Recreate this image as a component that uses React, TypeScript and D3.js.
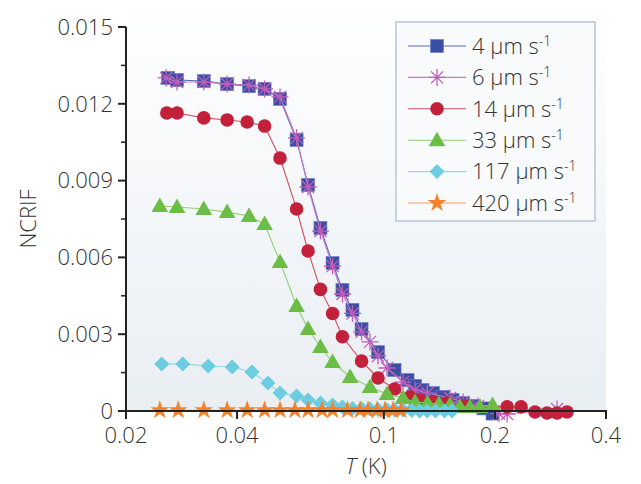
import React from 'react';
import * as d3 from 'd3';

const xTicks = [0.02, 0.04, 0.1, 0.2, 0.4];
const xTickLabels = ['0.02', '0.04', '0.1', '0.2', '0.4'];
const yTicks = [0, 0.003, 0.006, 0.009, 0.012, 0.015];
const yTickLabels = ['0', '0.003', '0.006', '0.009', '0.012', '0.015'];
const yMinorTicks = [0.0015, 0.0045, 0.0075, 0.0105, 0.0135];

const speeds = ['4', '6', '14', '33', '117', '420'];

const t4 = [0.026, 0.0275, 0.0325, 0.0376, 0.0431, 0.0475, 0.0523, 0.058, 0.0623, 0.0673, 0.0726, 0.0772, 0.0822, 0.087, 0.0964, 0.1069, 0.1159, 0.1215, 0.1273, 0.1359, 0.1446, 0.1535, 0.164, 0.175, 0.186, 0.197];
const n4 = [0.01301, 0.01293, 0.01289, 0.01277, 0.01269, 0.01258, 0.01219, 0.01059, 0.00883, 0.00715, 0.00578, 0.00473, 0.00395, 0.0032, 0.0023, 0.0016, 0.00121, 0.00098, 0.00082, 0.0007, 0.00055, 0.00043, 0.00031, 0.0002, 0.0001, -0.0001];

const t6 = [0.0257, 0.0275, 0.0325, 0.0376, 0.0431, 0.0475, 0.0523, 0.058, 0.0623, 0.0673, 0.0726, 0.0772, 0.0822, 0.087, 0.0917, 0.0964, 0.102, 0.1127, 0.1215, 0.1313, 0.1511, 0.164, 0.18, 0.205, 0.2158, 0.2947];
const n6 = [0.01301, 0.01285, 0.01285, 0.01277, 0.01273, 0.01258, 0.01227, 0.01067, 0.00875, 0.00703, 0.00566, 0.00457, 0.00381, 0.00309, 0.0027, 0.00215, 0.00168, 0.00113, 0.00082, 0.0007, 0.00051, 0.00035, 0.0002, -0.0001, -0.00012, 0.00008];

const t14 = [0.0258, 0.0275, 0.0325, 0.0376, 0.0426, 0.0475, 0.0523, 0.058, 0.0623, 0.0673, 0.0726, 0.0772, 0.087, 0.0964, 0.1069, 0.1177, 0.1253, 0.1359, 0.1483, 0.165, 0.2158, 0.2354, 0.2569, 0.2768, 0.2947, 0.3136];
const n14 = [0.01164, 0.01164, 0.01145, 0.01137, 0.01129, 0.01113, 0.00988, 0.00789, 0.00625, 0.00475, 0.00381, 0.0029, 0.00195, 0.00129, 0.00086, 0.00055, 0.00043, 0.00035, 0.00031, 0.0002, 0.00016, 0.00016, -0.00004, -0.00008, -0.00008, -0.00004];

const t33 = [0.0247, 0.0275, 0.0325, 0.0376, 0.0431, 0.0475, 0.0523, 0.058, 0.0623, 0.0673, 0.0726, 0.081, 0.0917, 0.102, 0.1127, 0.1215, 0.1313, 0.141, 0.1511, 0.1608, 0.1711, 0.1822, 0.197];
const n33 = [0.00801, 0.00797, 0.00789, 0.00777, 0.00762, 0.0073, 0.00582, 0.0041, 0.0032, 0.0025, 0.00191, 0.00133, 0.00094, 0.00066, 0.00051, 0.00035, 0.00031, 0.00027, 0.00023, 0.00016, 0.00016, 0.00016, 0.00023];

const t117 = [0.025, 0.0285, 0.0334, 0.0388, 0.0439, 0.0485, 0.0523, 0.058, 0.0623, 0.0673, 0.0726, 0.0772, 0.0822, 0.087, 0.0917, 0.0964, 0.102, 0.1069, 0.1127, 0.119, 0.125, 0.131, 0.138, 0.146, 0.153];
const n117 = [0.00184, 0.00184, 0.00176, 0.00172, 0.00152, 0.00109, 0.0007, 0.00059, 0.00043, 0.00031, 0.00023, 0.00016, 0.0001, 0.0001, 0.00008, 0.00006, 0.00004, 0.00004, 0.00004, 0.00002, 0.0, 0.0, 0.0, 0.0, 0.0];

const t420 = [0.0247, 0.0277, 0.0325, 0.0376, 0.0426, 0.0475, 0.0523, 0.0574, 0.0623, 0.068, 0.0726, 0.0797, 0.0862, 0.0906, 0.0958, 0.1007, 0.1059, 0.1113];
const n420 = [0.00003, 0.00003, 0.00003, 0.00003, 0.00003, 0.00003, 0.00003, 0.00003, 0.00003, 0.00003, 0.00003, 0.00003, 0.00003, 0.00003, 0.00003, 0.00003, 0.00003, 0.00003];

const W = 641, H = 484;
const X0 = 126, X1 = 606, Y0 = 411, Y1 = 27;
const FONT = "'Open Sans', sans-serif";
const FW = 300;
const TXT = '#333';

type Shape = 'square' | 'asterisk' | 'circle' | 'triangle' | 'diamond' | 'star';

const series = [
  { t: t4, n: n4, shape: 'square' as Shape, fill: '#3a4ea2', line: '#5868b8' },
  { t: t6, n: n6, shape: 'asterisk' as Shape, fill: '#c25cb9', line: '#c77ac6' },
  { t: t14, n: n14, shape: 'circle' as Shape, fill: '#c3203b', line: '#d2505f' },
  { t: t33, n: n33, shape: 'triangle' as Shape, fill: '#6bbd45', line: '#93d071' },
  { t: t117, n: n117, shape: 'diamond' as Shape, fill: '#6ccce0', line: '#8cd8e8' },
  { t: t420, n: n420, shape: 'star' as Shape, fill: '#f3822a', line: '#f4a060' },
];

function Marker({ shape, x, y, fill }: { shape: Shape; x: number; y: number; fill: string }) {
  switch (shape) {
    case 'square':
      return <rect x={x - 6.5} y={y - 6.5} width={13} height={13} fill={fill} stroke="#6a7cc8" strokeWidth={0.6} />;
    case 'circle':
      return <circle cx={x} cy={y} r={6.8} fill={fill} />;
    case 'triangle':
      return <path d={`M${x},${y - 8.5}L${x + 8.3},${y + 6}L${x - 8.3},${y + 6}Z`} fill={fill} />;
    case 'diamond':
      return <path d={`M${x},${y - 7.5}L${x + 7.5},${y}L${x},${y + 7.5}L${x - 7.5},${y}Z`} fill={fill} />;
    case 'star': {
      const p = d3.symbol(d3.symbolStar, 110)();
      return <path d={p as string} transform={`translate(${x},${y})`} fill={fill} />;
    }
    case 'asterisk': {
      const r = 8.5, d = r * 0.7071;
      return (
        <path
          d={`M${x - r},${y}L${x + r},${y}M${x},${y - r}L${x},${y + r}M${x - d},${y - d}L${x + d},${y + d}M${x - d},${y + d}L${x + d},${y - d}`}
          stroke={fill}
          strokeWidth={1.3}
          fill="none"
        />
      );
    }
  }
  return null;
}

export default function App() {
  const x = d3.scaleLog().domain([0.02, 0.4]).range([X0, X1]);
  const y = d3.scaleLinear().domain([0, 0.015]).range([Y0, Y1]);
  const line = d3.line<[number, number]>().x((d) => x(d[0])).y((d) => y(d[1]));

  const legX = 396, legY = 22, legW = 199, legH = 199;
  const rowY0 = 46, rowDy = 31.4;

  return (
    <svg width={W} height={H} style={{ position: 'absolute', left: 0, top: 0, background: '#fff' }}>
      <defs>
        <linearGradient id="bg" x1="0" y1="0" x2="0" y2="1">
          <stop offset="0" stopColor="#ffffff" />
          <stop offset="1" stopColor="#e9eef3" />
        </linearGradient>
      </defs>
      <rect x={X0} y={0} width={X1 - X0} height={Y0} fill="url(#bg)" />

      {series.map((s, i) => {
        const pts: [number, number][] = s.t.map((t, j) => [t, s.n[j]]);
        return (
          <g key={i}>
            <path d={line(pts) as string} fill="none" stroke={s.line} strokeWidth={1.1} />
            {pts.map((p, j) => (
              <Marker key={j} shape={s.shape} x={x(p[0])} y={y(p[1])} fill={s.fill} />
            ))}
          </g>
        );
      })}

      <line x1={X0} x2={X0} y1={Y1} y2={Y0 + 2} stroke="#222" strokeWidth={2} />
      <line x1={X0 - 8} x2={X1 + 1} y1={Y0} y2={Y0} stroke="#222" strokeWidth={2} />
      {yTicks.map((v, i) => (
        <g key={i}>
          <line x1={X0 - 8} x2={X0} y1={y(v)} y2={y(v)} stroke="#222" strokeWidth={2} />
          <text x={X0 - 13} y={y(v)} dy="0.35em" textAnchor="end" fontFamily={FONT} fontWeight={FW} fontSize={22} fill={TXT}>
            {yTickLabels[i]}
          </text>
        </g>
      ))}
      {yMinorTicks.map((v, i) => (
        <line key={i} x1={X0 - 5} x2={X0} y1={y(v)} y2={y(v)} stroke="#222" strokeWidth={1.5} />
      ))}
      {xTicks.map((v, i) => (
        <g key={i}>
          <line x1={x(v)} x2={x(v)} y1={Y0} y2={Y0 + 8} stroke="#222" strokeWidth={2} />
          <text x={x(v)} y={443} textAnchor="middle" fontFamily={FONT} fontWeight={FW} fontSize={22} fill={TXT}>
            {xTickLabels[i]}
          </text>
        </g>
      ))}
      <text x={(X0 + X1) / 2} y={474} textAnchor="middle" fontFamily={FONT} fontWeight={FW} fontSize={22} fill={TXT}>
        <tspan fontStyle="italic">T</tspan> (K)
      </text>
      <text
        transform={`translate(36,${(Y0 + Y1) / 2}) rotate(-90)`}
        textAnchor="middle"
        fontFamily={FONT}
        fontWeight={FW}
        fontSize={22}
        fill={TXT}
      >
        NCRIF
      </text>

      <rect x={legX} y={legY} width={legW} height={legH} fill="#f8fafc" stroke="#c7d2de" strokeWidth={2} />
      {series.map((s, i) => {
        const cy = rowY0 + i * rowDy;
        return (
          <g key={i}>
            <line x1={408} x2={466} y1={cy} y2={cy} stroke={s.line} strokeWidth={1.1} />
            <Marker shape={s.shape} x={437} y={cy} fill={s.fill} />
            <text x={472} y={cy} dy="0.35em" fontFamily={FONT} fontWeight={FW} fontSize={22} fill={TXT}>
              {speeds[i]} µm s
              <tspan dy={-8} fontSize={14}>-1</tspan>
            </text>
          </g>
        );
      })}
    </svg>
  );
}
